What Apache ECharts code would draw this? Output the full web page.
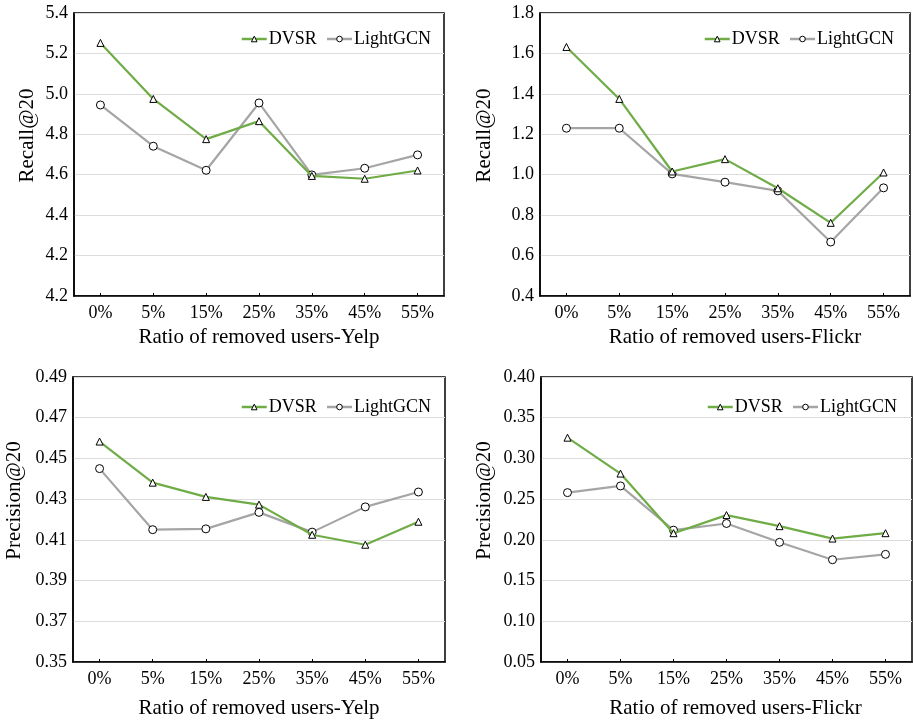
<!DOCTYPE html>
<html>
<head>
<meta charset="utf-8">
<script src="https://cdn.jsdelivr.net/npm/echarts@6/dist/echarts.min.js"></script>
<style>
html,body{margin:0;padding:0;background:#fff;}
#main{width:913px;height:724px;}
</style>
</head>
<body>
<div id="main"></div>
<script>
var categories = ['0%', '5%', '15%', '25%', '35%', '45%', '55%'];

var yelpRecallDVSR = [5.252, 4.975, 4.776, 4.865, 4.594, 4.580, 4.621];
var yelpRecallLightGCN = [4.945, 4.741, 4.622, 4.955, 4.599, 4.632, 4.698];
var flickrRecallDVSR = [1.632, 1.375, 1.016, 1.077, 0.933, 0.762, 1.011];
var flickrRecallLightGCN = [1.230, 1.230, 1.004, 0.963, 0.920, 0.667, 0.935];
var yelpPrecisionDVSR = [0.4583, 0.4381, 0.4311, 0.4273, 0.4125, 0.4076, 0.4189];
var yelpPrecisionLightGCN = [0.4450, 0.4150, 0.4154, 0.4235, 0.4138, 0.4262, 0.4335];
var flickrPrecisionDVSR = [0.3255, 0.2814, 0.2082, 0.2304, 0.2168, 0.2016, 0.2082];
var flickrPrecisionLightGCN = [0.2580, 0.2662, 0.2119, 0.2201, 0.1970, 0.1756, 0.1822];

var yelpRecallTicks = ['4.2', '4.2', '4.4', '4.6', '4.8', '5.0', '5.2', '5.4'];
var flickrRecallTicks = ['0.4', '0.6', '0.8', '1.0', '1.2', '1.4', '1.6', '1.8'];
var yelpPrecisionTicks = ['0.35', '0.37', '0.39', '0.41', '0.43', '0.45', '0.47', '0.49'];
var flickrPrecisionTicks = ['0.05', '0.10', '0.15', '0.20', '0.25', '0.30', '0.35', '0.40'];

var xNames = ['Ratio of removed users-Yelp', 'Ratio of removed users-Flickr', 'Ratio of removed users-Yelp', 'Ratio of removed users-Flickr'];
var yNames = ['Recall@20', 'Recall@20', 'Precision@20', 'Precision@20'];
var seriesNames = ['DVSR', 'LightGCN'];

var FONT = '"Liberation Serif", "Times New Roman", serif';
var GREEN = '#6fac46';
var GRAY = '#a5a5a5';

var grids = [
  {left: 74, top: 13, width: 370, height: 283},
  {left: 540, top: 13, width: 370, height: 283},
  {left: 73, top: 377, width: 372, height: 285},
  {left: 541, top: 377, width: 371, height: 285}
];
var yRanges = [
  {min: 4.0, max: 5.4, interval: 0.2, ticks: yelpRecallTicks},
  {min: 0.4, max: 1.8, interval: 0.2, ticks: flickrRecallTicks},
  {min: 0.35, max: 0.49, interval: 0.02, ticks: yelpPrecisionTicks},
  {min: 0.05, max: 0.40, interval: 0.05, ticks: flickrPrecisionTicks}
];
var yNameGaps = [36, 45, 48, 46];
var xNameGaps = [31, 31, 36, 36];
var xNamePad = [[0,0,0,0],[0,0,0,20],[0,0,0,0],[0,0,0,18]];
var legendPos = [
  {right: 477, top: 25},
  {right: 14, top: 25},
  {right: 477, top: 393},
  {right: 11, top: 393}
];
var dataSets = [
  [yelpRecallDVSR, yelpRecallLightGCN],
  [flickrRecallDVSR, flickrRecallLightGCN],
  [yelpPrecisionDVSR, yelpPrecisionLightGCN],
  [flickrPrecisionDVSR, flickrPrecisionLightGCN]
];

var option = {
  backgroundColor: '#fff',
  animation: false,
  grid: [], xAxis: [], yAxis: [], series: [], legend: []
};

for (var i = 0; i < 4; i++) {
  var g = grids[i];
  option.grid.push({
    left: g.left, top: g.top, width: g.width, height: g.height,
    show: true, borderColor: '#000', borderWidth: 1.5, backgroundColor: 'transparent'
  });
  option.xAxis.push({
    type: 'category', gridIndex: i, data: categories, boundaryGap: true,
    name: xNames[i], nameLocation: 'middle', nameGap: xNameGaps[i],
    nameTextStyle: {fontFamily: FONT, fontSize: 21, color: '#000', padding: xNamePad[i]},
    axisLine: {lineStyle: {color: '#000', width: 1.5}},
    axisTick: {show: true, inside: true, alignWithLabel: true, length: 3, lineStyle: {color: '#000'}},
    axisLabel: {fontFamily: FONT, fontSize: 18, color: '#000', margin: 8},
    splitLine: {show: false}
  });
  (function(r){
    option.yAxis.push({
      type: 'value', gridIndex: i, min: r.min, max: r.max, interval: r.interval,
      name: yNames[i], nameLocation: 'middle', nameGap: yNameGaps[i],
      nameTextStyle: {fontFamily: FONT, fontSize: 21, color: '#000', padding: [0, 0, 0, 38]},
      axisLine: {show: true, lineStyle: {color: '#000', width: 1.5}},
      axisTick: {show: false},
      axisLabel: {
        fontFamily: FONT, fontSize: 18, color: '#000', margin: 6,
        formatter: function (v, idx) { return r.ticks[idx] !== undefined ? r.ticks[idx] : ''; }
      },
      splitLine: {show: true, lineStyle: {color: '#dcdcdc', width: 1.2}}
    });
  })(yRanges[i]);
  option.series.push({
    name: seriesNames[0], type: 'line', xAxisIndex: i, yAxisIndex: i,
    data: dataSets[i][0], symbol: 'triangle', symbolSize: 7,
    lineStyle: {color: GREEN, width: 2.2},
    itemStyle: {color: '#fff', borderColor: '#000', borderWidth: 1},
    z: 3
  });
  option.series.push({
    name: seriesNames[1], type: 'line', xAxisIndex: i, yAxisIndex: i,
    data: dataSets[i][1], symbol: 'circle', symbolSize: 8,
    lineStyle: {color: GRAY, width: 2.2},
    itemStyle: {color: '#fff', borderColor: '#000', borderWidth: 1},
    z: 2
  });
  var leg = {
    top: legendPos[i].top, right: legendPos[i].right, width: 300,
    orient: 'horizontal', itemWidth: 25, itemHeight: 7, itemGap: 9,
    textStyle: {fontFamily: FONT, fontSize: 18, color: '#000', padding: [0, 0, 0, -3]},
    data: [
      {name: 'DVSR', itemStyle: {color: '#fff', borderColor: '#000', borderWidth: 1}, lineStyle: {color: GREEN, width: 2.5}},
      {name: 'LightGCN', itemStyle: {color: '#fff', borderColor: '#000', borderWidth: 1}, lineStyle: {color: GRAY, width: 2.5}}
    ]
  };
  option.legend.push(leg);
}

var chart = echarts.init(document.getElementById('main'), null, {renderer: 'canvas'});
chart.setOption(option);
</script>
</body>
</html>
